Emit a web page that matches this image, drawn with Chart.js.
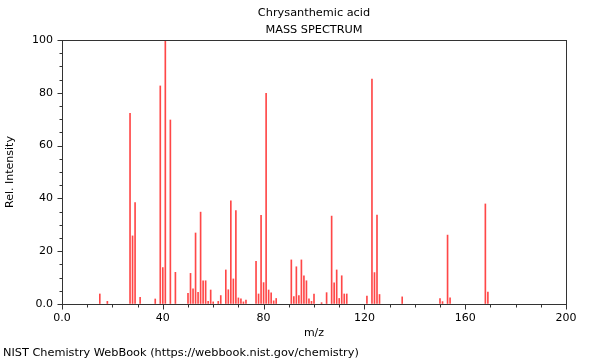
<!DOCTYPE html>
<html>
<head>
<meta charset="utf-8">
<script src="https://cdn.jsdelivr.net/npm/chart.js@4.4.1/dist/chart.umd.min.js"></script>
<style>
html,body{margin:0;padding:0;background:#fff;}
canvas{display:block;}
</style>
</head>
<body>
<canvas id="c" width="600" height="360"></canvas>
<script>
// m/z values and relative intensities
const mz = [15, 18, 27, 28, 29, 31, 37, 39, 40, 41, 43, 45, 50, 51, 52, 53, 54, 55, 56, 57, 58, 59, 60, 62, 63, 65, 66, 67, 68, 69, 70, 71, 72, 73, 77, 78, 79, 80, 81, 82, 83, 84, 85, 91, 92, 93, 94, 95, 96, 97, 98, 99, 100, 103, 105, 107, 108, 109, 110, 111, 112, 113, 121, 123, 124, 125, 126, 135, 150, 151, 153, 154, 168, 169];
const intensity = [3.8, 1.0, 72.2, 25.8, 38.4, 2.5, 1.9, 82.6, 13.8, 100, 69.7, 12.0, 4.0, 11.6, 5.7, 26.9, 4.4, 34.8, 8.8, 8.8, 1.0, 5.3, 0.8, 1.0, 3.2, 12.9, 5.4, 39.1, 9.5, 35.4, 2.3, 2.0, 0.8, 1.5, 16.2, 3.8, 33.6, 8.1, 79.8, 5.3, 4.2, 1.2, 2.1, 16.7, 2.8, 14.1, 3.2, 16.7, 10.7, 8.8, 2.0, 1.0, 3.8, 0.5, 4.3, 33.3, 8.0, 12.9, 2.1, 10.7, 3.8, 3.8, 3.0, 85.2, 11.9, 33.7, 3.6, 2.7, 2.1, 0.9, 26.1, 2.3, 37.9, 4.5];
const xTicks = [0, 40, 80, 120, 160, 200];
const yTicks = [0, 20, 40, 60, 80, 100];
const titleLines = ["Chrysanthemic acid", "MASS SPECTRUM"];
const footerText = "NIST Chemistry WebBook (https://webbook.nist.gov/chemistry)";

const FONT = '"DejaVu Sans", sans-serif';
const fontOpt = {family: FONT, size: 11};
const fmt = v => v === 0 ? '0.0' : String(v);
const gridOpt = {display: true, drawOnChartArea: false, drawTicks: true, tickLength: 5, color: 'rgba(0,0,0,0)', tickColor: 'rgba(0,0,0,0)'};

const decor = {
  id: 'decor',
  afterDraw(chart) {
    const ctx = chart.ctx;
    const a = chart.chartArea;
    const xs = chart.scales.x, ys = chart.scales.y;
    ctx.save();
    ctx.strokeStyle = '#333';
    ctx.lineWidth = 1;
    ctx.strokeRect(a.left + 0.5, a.top + 0.5, a.right - a.left, a.bottom - a.top);
    ctx.beginPath();
    for (let v = xs.min; v <= xs.max; v += 10) {
      const px = Math.round(xs.getPixelForValue(v)) + 0.5;
      const len = xTicks.includes(v) ? 5 : 3;
      ctx.moveTo(px, a.bottom + 0.5);
      ctx.lineTo(px, a.bottom + 0.5 + len);
    }
    for (let v = ys.min; v <= ys.max; v += 5) {
      const py = Math.round(ys.getPixelForValue(v)) + 0.5;
      const len = yTicks.includes(v) ? 5 : 3;
      ctx.moveTo(a.left + 0.5, py);
      ctx.lineTo(a.left + 0.5 - len, py);
    }
    ctx.stroke();
    ctx.fillStyle = '#000';
    ctx.font = '11.3px ' + FONT;
    ctx.textBaseline = 'middle';
    ctx.textAlign = 'center';
    const cx = (a.left + a.right) / 2;
    ctx.fillText(titleLines[0], cx, 13);
    ctx.fillText(titleLines[1], cx, 30);
    ctx.textAlign = 'left';
    ctx.fillText(footerText, 3, 353);
    ctx.restore();
  }
};

new Chart(document.getElementById('c'), {
  type: 'bar',
  data: {
    datasets: [{
      data: mz.map((m, i) => ({x: m, y: intensity[i]})),
      backgroundColor: 'rgba(255,0,0,0.72)',
      borderWidth: 0,
      barThickness: 1
    }]
  },
  options: {
    responsive: false,
    animation: false,
    devicePixelRatio: 1,
    layout: {padding: {left: 0, right: 34, top: 40, bottom: 0}},
    plugins: {legend: {display: false}, tooltip: {enabled: false}, title: {display: false}},
    scales: {
      x: {
        type: 'linear', min: 0, max: 200, offset: false,
        afterBuildTicks: s => { s.ticks = xTicks.map(v => ({value: v})); },
        afterFit: s => { s.height = 56; },
        ticks: {callback: fmt, autoSkip: false, maxRotation: 0, font: fontOpt, color: '#000', padding: 3},
        grid: gridOpt,
        border: {display: false},
        title: {display: true, text: 'm/z', font: fontOpt, color: '#000', padding: {top: 0, bottom: 20}}
      },
      y: {
        type: 'linear', min: 0, max: 100,
        afterBuildTicks: s => { s.ticks = yTicks.map(v => ({value: v})); },
        afterFit: s => { s.width = 62; },
        ticks: {callback: fmt, autoSkip: false, font: fontOpt, color: '#000', padding: 4},
        grid: gridOpt,
        border: {display: false},
        title: {display: true, text: 'Rel. Intensity', font: fontOpt, color: '#000', padding: {top: 4, bottom: 4}}
      }
    }
  },
  plugins: [decor]
});
</script>
</body>
</html>
